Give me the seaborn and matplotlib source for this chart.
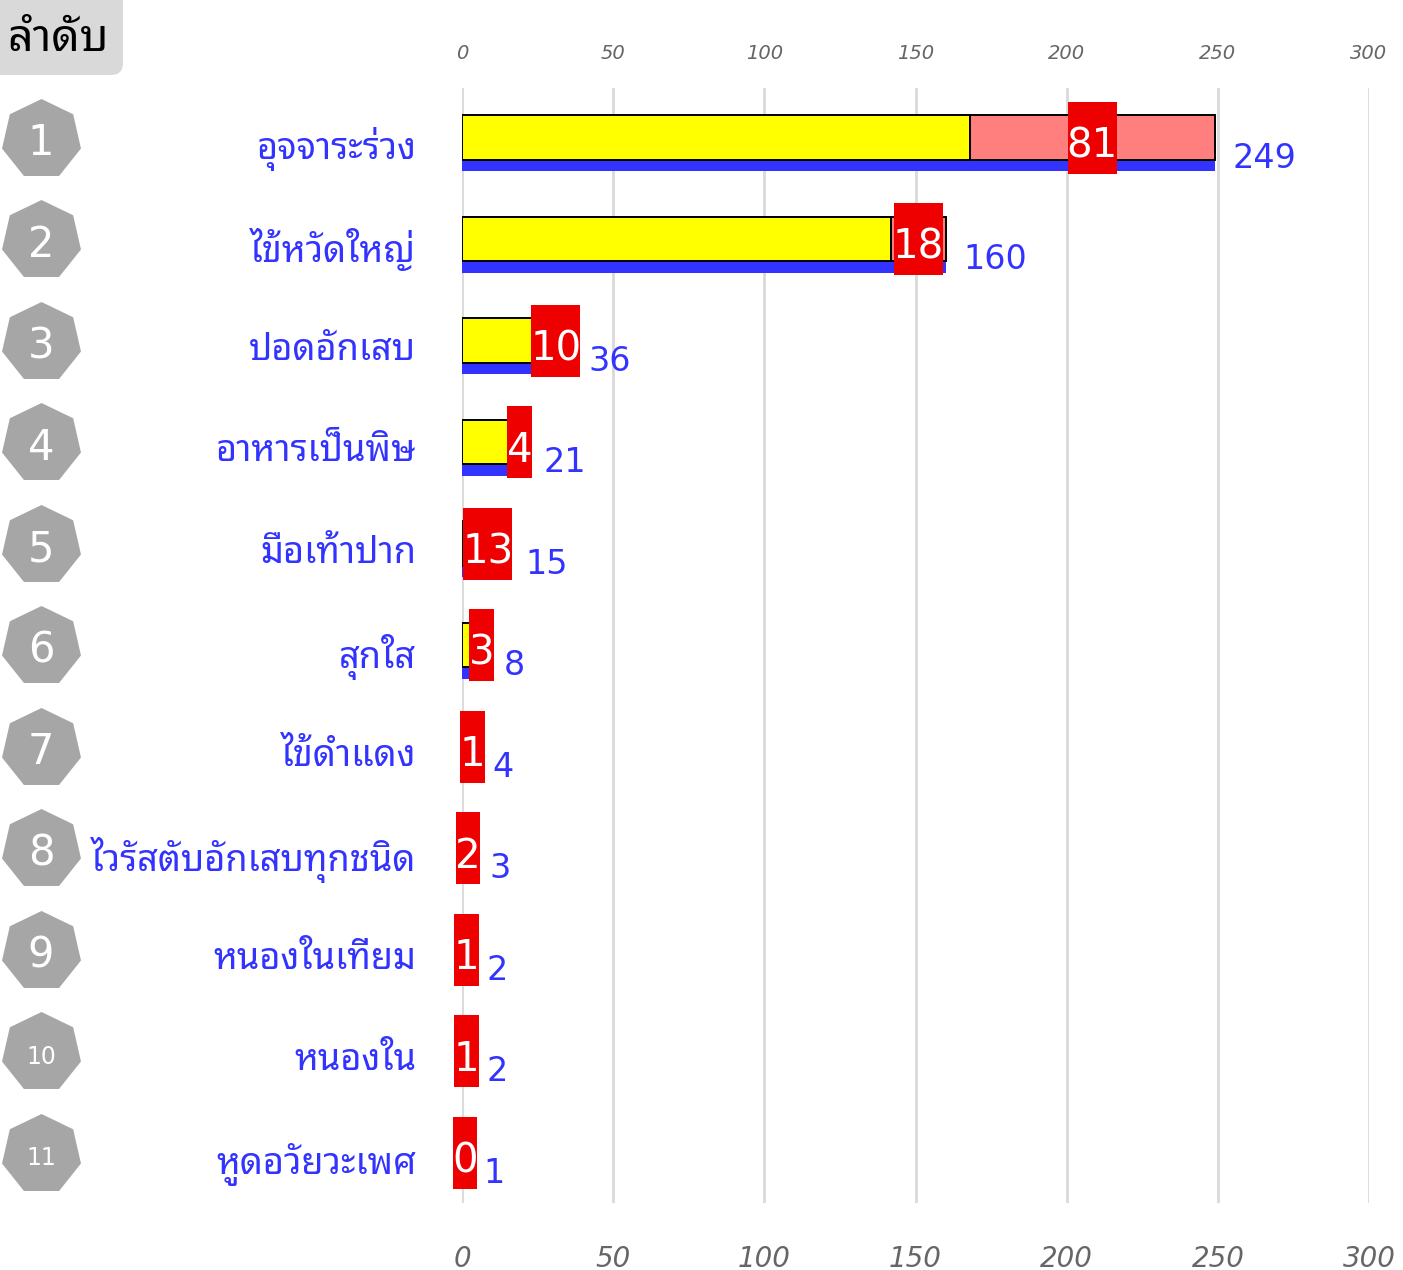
import matplotlib
matplotlib.use("Agg")
import matplotlib.pyplot as plt
import matplotlib.transforms as mtransforms
from matplotlib.patches import FancyBboxPatch
import seaborn as sns
import pandas as pd

# data
diseases = ["อุจจาระร่วง", "ไข้หวัดใหญ่", "ปอดอักเสบ", "อาหารเป็นพิษ", "มือเท้าปาก", "สุกใส",
            "ไข้ดำแดง", "ไวรัสตับอักเสบทุกชนิด", "หนองในเทียม", "หนองใน", "หูดอวัยวะเพศ"]
totals = [249, 160, 36, 21, 15, 8, 4, 3, 2, 2, 1]
red_part = [81, 18, 10, 4, 13, 3, 1, 2, 1, 1, 0]
ranks = list(range(1, len(diseases) + 1))
xticks = [0, 50, 100, 150, 200, 250, 300]

yellow_part = [t - r for t, r in zip(totals, red_part)]
df = pd.DataFrame({"disease": diseases, "total": totals})

sns.set_theme(style="white")
thai = ["Noto Sans Thai Looped", "DejaVu Sans"]
plt.rcParams["font.family"] = thai

BLUE = "#3333ff"
W, H = 1403, 1270
fig = plt.figure(figsize=(W / 100, H / 100), dpi=100)
ax_top, ax_bot = 88, 1203
ax = fig.add_axes([462 / W, 1 - ax_bot / H, (1369 - 462) / W, (ax_bot - ax_top) / H])

# total (blue) bars underneath
sns.barplot(data=df, y="disease", x="total", color=BLUE, saturation=1, width=0.56,
            orient="h", ax=ax, zorder=2, linewidth=0)
ys = list(range(len(diseases)))
# yellow + pink stacked bars, shifted up so the blue shows as a strip below
ax.barh([y - 0.055 for y in ys], yellow_part, height=0.44, color="#ffff00",
        edgecolor="black", linewidth=1.4, zorder=3)
ax.barh([y - 0.055 for y in ys], red_part, left=yellow_part, height=0.44,
        color="#ff7f7f", edgecolor="black", linewidth=1.4, zorder=3)

# red value boxes + labels
for y, yl, r, t in zip(ys, yellow_part, red_part, totals):
    c = yl + r / 2
    w = 8.1 * len(str(r))
    ax.barh(y - 0.05, w, left=c - w / 2, height=0.71, color="#ee0000",
            linewidth=0, zorder=4, clip_on=False)
    ax.text(c, y + 0.03, str(r), color="white", fontsize=29, ha="center",
            va="center", zorder=5, family="DejaVu Sans")
    ax.annotate(str(t), xy=(t, y + 0.15), xytext=(13, 0), textcoords="offset points",
                color=BLUE, fontsize=24, va="center", ha="left", family="DejaVu Sans")

ax.set_xlim(0, 300)
ax.set_ylim(10.443, -0.542)
ax.set_xticks(xticks)
ax.xaxis.grid(True, color="#d9d9d9", linewidth=2)
ax.set_axisbelow(True)
for s in ax.spines.values():
    s.set_visible(False)
ax.set_xlabel("")
ax.set_ylabel("")
ax.tick_params(axis="y", length=0, pad=33, labelsize=26, labelcolor=BLUE)
for lab in ax.get_yticklabels():
    lab.set_y(lab.get_position()[1])
    lab.set_va("center_baseline")
ax.tick_params(axis="x", length=0, pad=30, labelsize=20, labelcolor="#666666")
for lab in ax.get_xticklabels():
    lab.set_fontstyle("italic")
    lab.set_family("DejaVu Sans")

sec = ax.secondary_xaxis("top")
sec.set_xticks(xticks)
sec.tick_params(length=0, pad=18, labelsize=14, labelcolor="#666666")
for s in sec.spines.values():
    s.set_visible(False)
for lab in sec.get_xticklabels():
    lab.set_fontstyle("italic")
    lab.set_family("DejaVu Sans")

# rank badges (heptagons) on the left
bt = mtransforms.blended_transform_factory(fig.transFigure, ax.transData)
bx = 41 / W
ax.scatter([bx] * len(ys), [y - 0.04 for y in ys], marker=(7, 0, 0), s=3400,
           color="#a6a6a6", transform=bt, clip_on=False, zorder=5, linewidths=0)
for y, rk in zip(ys, ranks):
    ax.text(bx, y, str(rk), transform=bt, color="white",
            fontsize=30 if rk < 10 else 17, ha="center", va="center",
            family="DejaVu Sans", zorder=6)

# header box
fig.patches.append(FancyBboxPatch((-20, H - 75), 143, 95, transform=None,
                                  boxstyle="round,pad=0,rounding_size=12",
                                  facecolor="#d9d9d9", edgecolor="none"))
fig.text(58 / W, 1 - 40 / H, "ลำดับ", fontsize=32, color="black",
         ha="center", va="center")

fig.savefig("out.png", dpi=100)
